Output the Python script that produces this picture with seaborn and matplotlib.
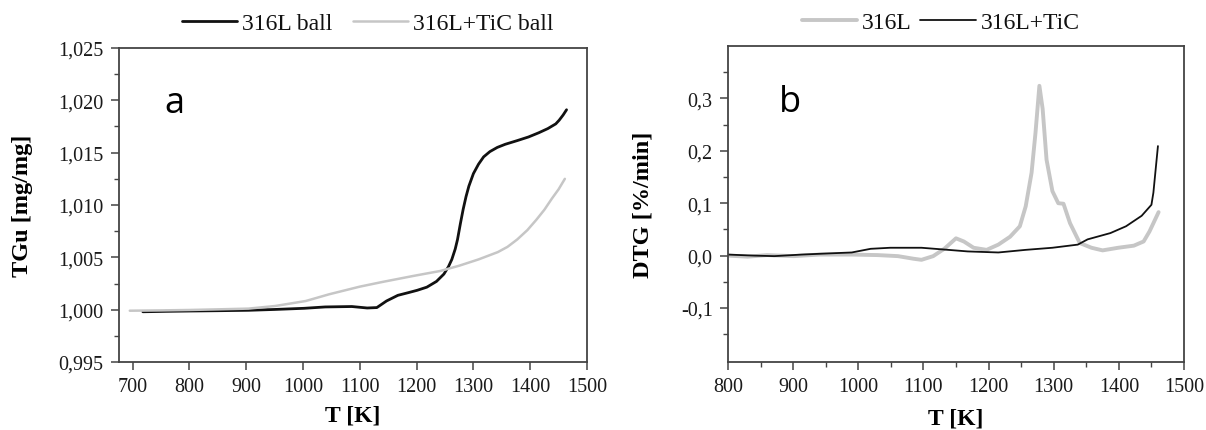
import numpy as np
import pandas as pd
import seaborn as sns
import matplotlib.pyplot as plt
from matplotlib.ticker import FuncFormatter, MultipleLocator, FixedLocator

# panel a: TG curves
t_316l_ball = [718, 760, 800, 850, 904, 950, 1002, 1039, 1086, 1113, 1130, 1147, 1167, 1185, 1201,
               1218, 1235, 1248, 1256, 1262, 1268, 1272, 1277, 1282, 1287, 1292, 1300, 1309, 1318,
               1329, 1342, 1356, 1377, 1397, 1415, 1431, 1445, 1451, 1458, 1464]
tg_316l_ball = [0.99980, 0.99984, 0.99987, 0.99990, 0.99994, 1.00002, 1.00013, 1.00026, 1.00030,
                1.00016, 1.00020, 1.00083, 1.00137, 1.00162, 1.00185, 1.00215, 1.00270, 1.00340,
                1.00410, 1.00480, 1.00580, 1.00670, 1.00820, 1.00960, 1.01080, 1.01180, 1.01300,
                1.01390, 1.01460, 1.01510, 1.01550, 1.01580, 1.01615, 1.01650, 1.01690, 1.01730,
                1.01775, 1.01810, 1.01860, 1.01910]

t_tic_ball = [695, 750, 800, 850, 904, 951, 1005, 1046, 1100, 1140, 1194, 1242, 1275, 1309,
              1343, 1360, 1377, 1395, 1411, 1425, 1438, 1450, 1461]
tg_tic_ball = [0.99990, 0.99993, 0.99997, 1.00003, 1.00010, 1.00035, 1.00083, 1.00147, 1.00220,
               1.00265, 1.00322, 1.00370, 1.00420, 1.00480, 1.00550, 1.00600, 1.00670, 1.00760,
               1.00860, 1.00955, 1.01060, 1.01150, 1.01250]

# panel b: DTG curves
t_316l = [800, 830, 860, 901, 940, 990, 1030, 1061, 1085, 1097, 1115, 1132, 1150, 1162, 1177,
          1197, 1215, 1233, 1248, 1257, 1266, 1272, 1278, 1283, 1289, 1298, 1307, 1315, 1325,
          1340, 1358, 1375, 1399, 1423, 1438, 1447, 1461]
dtg_316l = [0.000, -0.002, 0.001, -0.001, 0.002, 0.002, 0.001, -0.001, -0.006, -0.008, -0.001,
            0.013, 0.033, 0.027, 0.015, 0.011, 0.021, 0.036, 0.056, 0.094, 0.158, 0.234, 0.324,
            0.280, 0.183, 0.123, 0.100, 0.099, 0.062, 0.024, 0.015, 0.010, 0.015, 0.019, 0.027,
            0.046, 0.083]

t_316l_tic = [800, 840, 871, 913, 950, 990, 1019, 1049, 1097, 1138, 1168, 1215, 1257, 1298,
              1337, 1352, 1387, 1411, 1435, 1450, 1453, 1457, 1460]
dtg_316l_tic = [0.002, 0.000, -0.001, 0.002, 0.004, 0.006, 0.013, 0.015, 0.015, 0.011, 0.008,
                0.006, 0.011, 0.015, 0.021, 0.031, 0.043, 0.056, 0.076, 0.097, 0.120, 0.171,
                0.209]

sns.set_theme(style="ticks")
plt.rcParams['font.family'] = ['Liberation Serif', 'DejaVu Serif']

W, H = 1206, 431
fig = plt.figure(figsize=(W / 100, H / 100), dpi=100)
ax1 = fig.add_axes([119 / W, 1 - 363 / H, 468 / W, 314 / H])
ax2 = fig.add_axes([728 / W, 1 - 363 / H, 456 / W, 316 / H])

black = '#111111'
grey = '#c6c6c6'

sns.lineplot(x=t_316l_ball, y=tg_316l_ball, ax=ax1, color=black, lw=2.0, label='316L ball', estimator=None)
sns.lineplot(x=t_tic_ball, y=tg_tic_ball, ax=ax1, color=grey, lw=1.8, label='316L+TiC ball', estimator=None)

sns.lineplot(x=t_316l, y=dtg_316l, ax=ax2, color=grey, lw=2.8, label='316L', estimator=None)
sns.lineplot(x=t_316l_tic, y=dtg_316l_tic, ax=ax2, color=black, lw=1.3, label='316L+TiC', estimator=None)

ax1.set_xlim(676, 1500)
ax1.set_ylim(0.995, 1.025)
ax1.set_xticks(range(700, 1501, 100))
ax1.set_yticks([0.995, 1.000, 1.005, 1.010, 1.015, 1.020, 1.025])
ax1.yaxis.set_minor_locator(MultipleLocator(0.0025))
ax1.yaxis.set_major_formatter(FuncFormatter(lambda v, p: f"{v:.3f}".replace('.', ',')))

ax2.set_xlim(800, 1500)
ax2.set_ylim(-0.203, 0.40)
ax2.set_xticks(range(800, 1501, 100))
ax2.set_yticks([-0.1, 0.0, 0.1, 0.2, 0.3])
ax2.xaxis.set_minor_locator(MultipleLocator(50))
ax2.yaxis.set_minor_locator(FixedLocator([-0.15, -0.05, 0.05, 0.15, 0.25, 0.35]))
ax2.yaxis.set_major_formatter(FuncFormatter(lambda v, p: f"{v:.1f}".replace('.', ',')))

for ax in (ax1, ax2):
    for s in ax.spines.values():
        s.set_visible(True)
        s.set_color('#444444')
        s.set_linewidth(1.3)
    ax.tick_params(which='major', direction='out', length=6, width=1.1, color='#444444', pad=5,
                   labelsize=14.5, labelcolor='#1a1a1a', top=False, right=False)
    ax.tick_params(which='minor', direction='out', length=3.5, width=1, color='#444444',
                   top=False, right=False)

ax1.set_xlabel('T [K]', fontsize=17, fontweight='bold', color='black')
ax1.set_ylabel('TGu [mg/mg]', fontsize=17.5, fontweight='bold', color='black')
ax2.set_xlabel('T [K]', fontsize=17, fontweight='bold', color='black')
ax2.set_ylabel('DTG [%/min]', fontsize=17.5, fontweight='bold', color='black')
ax1.xaxis.set_label_coords(0.5, (363 - 406) / 314)
ax1.yaxis.set_label_coords((33 - 119) / 468, 0.5)
ax2.xaxis.set_label_coords(0.5, (363 - 409) / 316)
ax2.yaxis.set_label_coords((653 - 728) / 456, 0.5)

# panel letters, placed in figure pixels from the top-left
fig.text(174 / W, 1 - 113 / H, 'a', fontsize=26, family='Open Sans', color='black',
         ha='center', va='baseline')
fig.text(790 / W, 1 - 112 / H, 'b', fontsize=26, family='Open Sans', color='black',
         ha='center', va='baseline')

ax1.legend(loc='center left', bbox_to_anchor=(182 / W, 1 - 24 / H), bbox_transform=fig.transFigure,
           ncol=2, frameon=False, fontsize=17, handlelength=2.35, handletextpad=0.2,
           columnspacing=0.85, borderaxespad=0, borderpad=0, labelcolor='#111111')
ax2.legend(loc='center left', bbox_to_anchor=(802 / W, 1 - 23 / H), bbox_transform=fig.transFigure,
           ncol=2, frameon=False, fontsize=17, handlelength=2.35, handletextpad=0.2,
           columnspacing=0.35, borderaxespad=0, borderpad=0, labelcolor='#111111')

fig.savefig('out.png', dpi=100, facecolor='white')
